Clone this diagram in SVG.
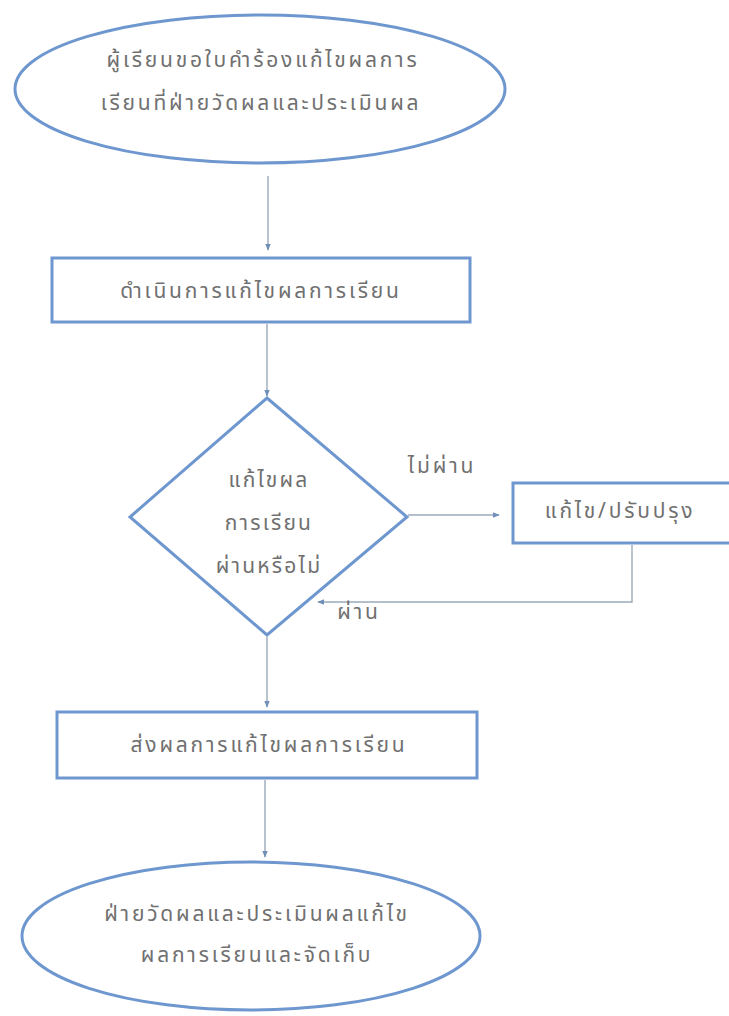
<svg xmlns="http://www.w3.org/2000/svg" width="729" height="1016" viewBox="0 0 729 1016">
  <defs>
    <marker id="arrow" viewBox="0 0 10 10" refX="9" refY="5" markerWidth="7" markerHeight="7" orient="auto" markerUnits="userSpaceOnUse">
      <path d="M0,1 L10,5 L0,9 z" fill="#6f8fb8"/>
    </marker>
    <style>
      .shape { fill: #ffffff; stroke: #6e97cf; stroke-width: 3; }
      .conn { fill: none; stroke: #9aaabb; stroke-width: 1.4; }
      .label { font-family: "Noto Sans Thai", "Noto Sans", "DejaVu Sans", sans-serif; font-size: 21px; letter-spacing: 2.8px; fill: #707070; text-anchor: middle; }
      .small { letter-spacing: 2.2px; }
    </style>
  </defs>
  <rect width="729" height="1016" fill="#ffffff"/>

  <!-- connectors -->
  <g id="connectors">
    <line class="conn" x1="268" y1="176" x2="268" y2="250" marker-end="url(#arrow)"/>
    <line class="conn" x1="267" y1="324" x2="267" y2="396" marker-end="url(#arrow)"/>
    <line class="conn" x1="408" y1="515" x2="499" y2="515" marker-end="url(#arrow)"/>
    <polyline class="conn" points="632,545 632,602 318,602" marker-end="url(#arrow)"/>
    <line class="conn" x1="267" y1="637" x2="267" y2="707" marker-end="url(#arrow)"/>
    <line class="conn" x1="265" y1="780" x2="265" y2="857" marker-end="url(#arrow)"/>
    <text class="label" x="442" y="473">ไม่ผ่าน</text>
    <text class="label" x="359" y="619">ผ่าน</text>
  </g>

  <!-- start: request submitted -->
  <g id="start">
    <ellipse class="shape" cx="260" cy="89" rx="245" ry="74"/>
    <text class="label" x="263" y="67">ผู้เรียนขอใบคำร้องแก้ไขผลการ</text>
    <text class="label" x="261" y="110">เรียนที่ฝ่ายวัดผลและประเมินผล</text>
  </g>

  <!-- process: carry out correction -->
  <g id="process-correct">
    <rect class="shape" x="52" y="258" width="418" height="64"/>
    <text class="label" x="261" y="298">ดำเนินการแก้ไขผลการเรียน</text>
  </g>

  <!-- decision -->
  <g id="decision">
    <polygon class="shape" points="267,398 407,517 267,635 130,517"/>
    <text class="label small" x="269" y="487">แก้ไขผล</text>
    <text class="label small" x="269" y="530">การเรียน</text>
    <text class="label small" x="269" y="573">ผ่านหรือไม่</text>
  </g>

  <!-- process: revise -->
  <g id="process-revise">
    <rect class="shape" x="513" y="483" width="230" height="60"/>
    <text class="label" x="620" y="518">แก้ไข/ปรับปรุง</text>
  </g>

  <!-- process: send results -->
  <g id="process-send">
    <rect class="shape" x="57" y="712" width="420" height="66"/>
    <text class="label" x="269" y="752">ส่งผลการแก้ไขผลการเรียน</text>
  </g>

  <!-- end: records stored -->
  <g id="end">
    <ellipse class="shape" cx="251" cy="936" rx="229" ry="74"/>
    <text class="label" x="257" y="921">ฝ่ายวัดผลและประเมินผลแก้ไข</text>
    <text class="label" x="257" y="962">ผลการเรียนและจัดเก็บ</text>
  </g>
</svg>
